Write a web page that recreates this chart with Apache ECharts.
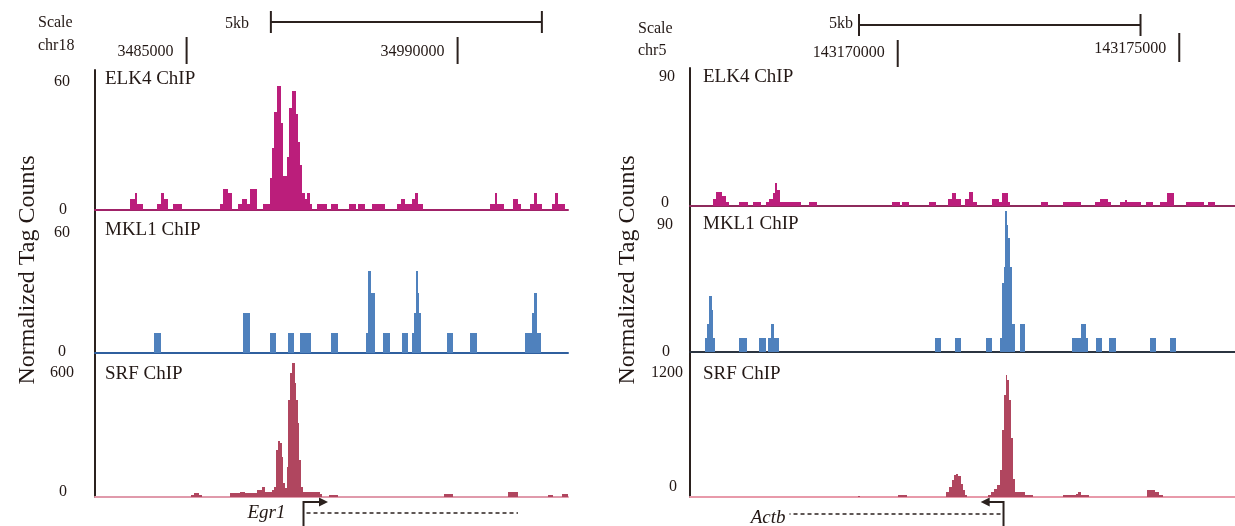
<!DOCTYPE html>
<html><head><meta charset="utf-8">
<script src="https://cdn.jsdelivr.net/npm/echarts@6/dist/echarts.min.js"></script>
<style>html,body{margin:0;padding:0;background:#fff}#c{width:1235px;height:526px}</style>
</head><body><div id="c"></div>
<script>
// ---------- DATA (positions in bp from window start; values = normalized tag counts) ----------
const trackNames = ['ELK4 ChIP', 'MKL1 ChIP', 'SRF ChIP'];

// Left window: chr18 (Egr1)
const chromL = 'chr18';
const spanL = 8727;
const yMaxL = [60, 60, 600];
const rulerPosL = [1690, 6690];
const rulerLabelsL = ['3485000', '34990000'];
const scaleBarL = [3245, 8245];
const elkL = [
  [646,738,5],[738,780,8],[780,891,3],
  [1138,1212,3],[1212,1273,8],[1273,1352,5],
  [1445,1600,3],
  [2306,2367,3],[2367,2459,10],[2459,2522,8],
  [2633,2707,3],[2707,2810,5],[2810,2860,3],[2860,2983,10],
  [3105,3229,3],
  [3229,3271,15],[3271,3308,29],[3308,3352,46],[3352,3426,58],[3426,3463,41],[3463,3506,16],
  [3506,3548,16],[3548,3585,25],[3585,3629,48],[3629,3703,56],[3703,3745,45],[3745,3782,32],
  [3782,3825,21],[3825,3875,8],[3875,3906,5],[3906,3967,8],[3967,3998,3],
  [4090,4286,3],[4349,4489,3],[4686,4815,3],[4847,4982,3],[5105,5351,3],
  [5566,5640,3],[5640,5720,5],[5720,5843,3],[5843,5904,5],[5904,5965,8],[5965,6057,3],
  [7288,7380,3],[7380,7422,8],[7422,7552,3],
  [7718,7810,5],[7810,7860,3],
  [8026,8105,3],[8105,8149,8],[8149,8242,3],
  [8426,8487,3],[8487,8548,8],[8548,8672,3]
];
const mklL = [
  [1083,1220,10],[2723,2867,20],[3236,3345,10],[3563,3679,10],[3782,3987,10],[4349,4480,10],
  [4993,5046,10],[5046,5101,41],[5101,5162,30],
  [5319,5435,10],[5662,5777,10],
  [5847,5887,10],[5887,5915,20],[5915,5956,41],[5956,5983,30],[5983,6017,20],
  [6502,6598,10],[6926,7042,10],
  [7937,8066,10],[8066,8107,20],[8107,8155,30],[8155,8238,10]
];
const srfL = [
  [1766,1834,10],[1834,1916,17],[1916,1971,8],
  [2491,2675,21],[2675,2768,26],[2768,2983,18],[2983,3076,34],[3076,3137,50],[3137,3260,26],[3260,3308,34],
  [3308,3339,50],[3339,3371,228],[3371,3413,269],[3413,3445,259],[3445,3474,195],[3474,3506,66],[3506,3548,43],
  [3548,3566,147],[3566,3598,469],[3598,3629,600],[3629,3690,650],[3690,3703,552],[3703,3740,469],
  [3740,3769,358],[3769,3801,180],[3801,3832,50],[3832,3967,26],[3967,4055,26],[4055,4158,24],[4158,4192,14],
  [4315,4479,11],[6447,6597,15],[7622,7800,26],[8360,8442,8],[8619,8727,15]
];
const geneL = [[3847, 4299, 7804, 'Egr1']]; // [TSS, arrow tip, gene end in view, name]

// Right window: chr5 (Actb)
const chromR = 'chr5';
const spanR = 9679;
const yMaxR = [90, 90, 1200];
const rulerPosR = [3689, 8689];
const rulerLabelsR = ['143170000', '143175000'];
const scaleBarR = [3001, 8001];
const elkR = [
  [416,466,5],[466,560,10],[560,632,7],[632,689,3],
  [869,1027,3],[1121,1265,3],
  [1351,1409,3],[1409,1466,5],[1466,1509,9],[1509,1553,16],[1553,1603,11],[1603,1963,3],
  [2106,2250,3],
  [3595,3725,3],[3761,3883,3],[4243,4372,3],
  [4574,4646,5],[4646,4732,9],[4732,4818,5],
  [4890,4948,5],[4948,5034,10],[5034,5091,3],
  [5365,5487,5],[5487,5545,3],[5545,5653,9],[5653,5681,3],
  [6228,6350,3],[6624,6947,3],
  [7192,7285,3],[7285,7429,5],[7429,7480,3],
  [7631,7717,3],[7717,7753,4],[7753,8005,3],
  [8091,8220,3],
  [8350,8472,3],[8472,8602,9],
  [8817,9120,3],[9192,9321,3]
];
const mklR = [
  [258,294,10],[294,330,20],[330,387,40],[387,416,30],[416,452,10],
  [869,1006,10],[1229,1351,10],
  [1387,1437,10],[1437,1495,20],[1495,1581,10],
  [4358,4466,10],[4710,4818,10],[5257,5365,10],
  [5509,5545,10],[5545,5573,49],[5573,5595,60],[5595,5623,100],[5623,5653,90],[5653,5681,81],[5681,5724,60],[5724,5768,20],
  [5854,5955,20],
  [6782,6947,10],[6947,7034,20],[7034,7070,10],
  [7213,7321,10],[7444,7559,10],[8163,8278,10],[8523,8630,10]
];
const srfR = [
  [2984,3020,12],[3689,3854,18],
  [4552,4602,47],[4602,4646,96],[4646,4681,161],[4681,4717,216],[4717,4768,226],[4768,4804,203],[4804,4840,129],[4840,4876,64],[4876,4912,22],
  [5293,5343,22],[5343,5394,47],[5394,5451,80],[5451,5509,112],[5509,5545,259],[5545,5573,648],[5573,5609,989],
  [5609,5638,1183],[5638,5667,1135],[5667,5703,940],[5703,5739,567],[5739,5775,177],[5775,5955,47],[5955,6099,22],
  [6624,6854,22],[6854,6890,30],[6890,6940,50],[6940,7091,18],
  [8113,8170,64],[8170,8256,70],[8256,8328,47],[8328,8400,22]
];
const geneR = [[5568, 5163, 1767, 'Actb']];

// ---------- STYLE ----------
const FONT = '"Liberation Serif","Times New Roman",serif';
const TXT = '#231815';
const AX = '#2b211e';
const FILL = ['#bb1e7b', '#4f81bd', '#b0465f'];

const grids = [], xAxes = [], yAxes = [], series = [], graphics = [];

function addGrid(left, right, top, height) {
  grids.push({left: left, right: right, top: top, height: height, containLabel: false});
  return grids.length - 1;
}
function hiddenAxes(gi, span, ymax, inverse) {
  xAxes.push({gridIndex: gi, type: 'value', min: 0, max: span, show: false});
  yAxes.push({gridIndex: gi, type: 'value', min: 0, max: ymax, inverse: !!inverse, show: false});
}

function buildPanel(P) {
  // frame (continuous vertical axis)
  let gi = addGrid(P.left, P.right, P.frameTop, 497 - P.frameTop);
  xAxes.push({gridIndex: gi, type: 'value', min: 0, max: P.span, show: false});
  yAxes.push({gridIndex: gi, type: 'value', min: 0, max: 1,
    axisLine: {show: true, lineStyle: {color: AX, width: 2}}, axisTick: {show: false},
    axisLabel: {show: false}, splitLine: {show: false}});

  // tracks
  P.tracks.forEach((T, k) => {
    const g = addGrid(P.left, P.right, T.top, T.bottom - T.top);
    xAxes.push({gridIndex: g, type: 'value', min: 0, max: P.span,
      axisLine: {show: true, onZero: false, lineStyle: {color: T.base, width: 2}},
      axisTick: {show: false}, axisLabel: {show: false}, splitLine: {show: false}});
    yAxes.push({gridIndex: g, type: 'value', min: 0, max: T.max, interval: T.max,
      axisLine: {show: false}, axisTick: {show: false}, splitLine: {show: false},
      axisLabel: {show: true, margin: T.margin, fontFamily: FONT, fontSize: 16, color: TXT,
        formatter: function (v) { return v === 0 ? '{z|0}' : '{m|' + v + '}'; },
        rich: {
          z: {fontFamily: FONT, fontSize: 16, color: TXT, padding: [0, T.zeroPad, T.zeroLift * 2, 0]},
          m: {fontFamily: FONT, fontSize: 16, color: TXT}
        }}});
    const fill = FILL[k];
    series.push({
      type: 'custom', xAxisIndex: g, yAxisIndex: g, data: T.data, encode: {x: [0, 1], y: 2},
      silent: true, animation: false, clip: false, z: 3,
      renderItem: function (params, api) {
        const a = api.coord([api.value(0), api.value(2)]);
        const b = api.coord([api.value(1), 0]);
        const x0 = Math.round(a[0]), x1 = Math.round(b[0]);
        const y0 = Math.round(a[1]), y1 = Math.round(b[1]);
        return {type: 'rect', shape: {x: x0, y: y0, width: Math.max(1, x1 - x0), height: y1 - y0},
          style: {fill: fill}};
      }
    });
    graphics.push({type: 'text', left: P.left + P.trackLabelDx, top: T.top + T.labelDy,
      style: {text: trackNames[k], font: '19px ' + FONT, fill: TXT}, silent: true});
  });

  // ruler (y in px from top inside ruler grid)
  const rg = addGrid(P.left, P.right, 0, 70);
  hiddenAxes(rg, P.span, 70, true);
  series.push({
    type: 'custom', xAxisIndex: rg, yAxisIndex: rg, data: [P.scaleBar], silent: true, animation: false, clip: false,
    renderItem: function (params, api) {
      const a = api.coord([api.value(0), P.barY]), b = api.coord([api.value(1), P.barY]);
      const ls = {stroke: AX, lineWidth: 2};
      return {type: 'group', children: [
        {type: 'line', shape: {x1: a[0], y1: a[1], x2: b[0], y2: b[1]}, style: ls},
        {type: 'line', shape: {x1: a[0], y1: a[1] - 11, x2: a[0], y2: a[1] + 11}, style: ls},
        {type: 'line', shape: {x1: b[0], y1: b[1] - 11, x2: b[0], y2: b[1] + 11}, style: ls},
        {type: 'text', x: a[0] - P.kbGap, y: a[1] + P.kbDy, style: {text: '5kb', font: '16px ' + FONT, fill: TXT, align: 'right', verticalAlign: 'middle'}}
      ]};
    }
  });
  series.push({
    type: 'custom', xAxisIndex: rg, yAxisIndex: rg,
    data: P.rulerPos.map((p, i) => [p, i]), silent: true, animation: false, clip: false,
    renderItem: function (params, api) {
      const i = api.value(1);
      const t = P.tickY[i];
      const a = api.coord([api.value(0), t[0]]), b = api.coord([api.value(0), t[1]]);
      return {type: 'group', children: [
        {type: 'line', shape: {x1: a[0], y1: a[1], x2: b[0], y2: b[1]}, style: {stroke: AX, lineWidth: 2}},
        {type: 'text', x: a[0] - 13, y: t[2], style: {text: P.rulerLabels[i], font: '16px ' + FONT, fill: TXT, align: 'right', verticalAlign: 'middle'}}
      ]};
    }
  });
  graphics.push({type: 'text', left: P.scaleX, top: P.scaleY, style: {text: 'Scale', font: '16px ' + FONT, fill: TXT}, silent: true});
  graphics.push({type: 'text', left: P.scaleX, top: P.chrY, style: {text: P.chrom, font: '16px ' + FONT, fill: TXT}, silent: true});

  // gene annotation
  const gg = addGrid(P.left, P.right, 497, 29);
  hiddenAxes(gg, P.span, 29, true);
  series.push({
    type: 'custom', xAxisIndex: gg, yAxisIndex: gg, data: P.gene, silent: true, animation: false, clip: false,
    renderItem: function (params, api) {
      const tss = api.value(0), tip = api.value(1), end = api.value(2);
      const name = P.gene[params.dataIndex][3];
      const top = api.coord([tss, 2]), bot = api.coord([tss, 29]);
      const ay = api.coord([tss, 5])[1];
      const tp = api.coord([tip, 5]);
      const dir = tp[0] > top[0] ? 1 : -1;
      const dy = api.coord([tss, P.dashY])[1];
      const ex = api.coord([end, P.dashY])[0];
      const d0 = top[0] + dir * 3;
      const leftX = Math.min(top[0], ex);
      return {type: 'group', children: [
        {type: 'line', shape: {x1: top[0], y1: ay - 1, x2: bot[0], y2: bot[1]}, style: {stroke: AX, lineWidth: 2}},
        {type: 'line', shape: {x1: top[0], y1: ay, x2: tp[0] - dir * 6, y2: ay}, style: {stroke: AX, lineWidth: 2}},
        {type: 'polygon', shape: {points: [[tp[0], ay], [tp[0] - dir * 9, ay - 4.5], [tp[0] - dir * 9, ay + 4.5]]}, style: {fill: AX}},
        {type: 'line', shape: {x1: d0, y1: dy, x2: ex, y2: dy}, style: {stroke: AX, lineWidth: 1.5, lineDash: [4, 3]}},
        {type: 'text', x: leftX - P.geneGap, y: api.coord([tss, P.geneTextY])[1], style: {text: name, font: 'italic 19px ' + FONT, fill: TXT, align: 'right', verticalAlign: 'middle'}}
      ]};
    }
  });

  graphics.push({type: 'text', x: P.titleX, y: 270, rotation: Math.PI / 2,
    style: {text: 'Normalized Tag Counts', font: '24px ' + FONT, fill: TXT, align: 'center', verticalAlign: 'middle'}, silent: true});
}

buildPanel({
  left: 95, right: 1235 - 568, span: spanL, frameTop: 70, trackLabelDx: 10,
  chrom: chromL, rulerPos: rulerPosL, rulerLabels: rulerLabelsL, scaleBar: scaleBarL,
  barY: 22, kbGap: 22, kbDy: 2, tickY: [[37, 64, 52], [37, 64, 52]], scaleX: 38, scaleY: 15, chrY: 38,
  gene: geneL, geneGap: 18, dashY: 16, geneTextY: 16, titleX: 28,
  tracks: [
    {top: 82, bottom: 210, max: yMaxL[0], data: elkL, base: '#a02268', labelDy: -12, margin: 25, zeroPad: 3, zeroLift: 0},
    {top: 233, bottom: 353, max: yMaxL[1], data: mklL, base: '#2f5f9e', labelDy: -12, margin: 25, zeroPad: 4, zeroLift: 1},
    {top: 373, bottom: 497, max: yMaxL[2], data: srfL, base: '#e09aab', labelDy: -8, margin: 21, zeroPad: 7, zeroLift: 5}
  ]
});
buildPanel({
  left: 690, right: 0, span: spanR, frameTop: 68, trackLabelDx: 13,
  chrom: chromR, rulerPos: rulerPosR, rulerLabels: rulerLabelsR, scaleBar: scaleBarR,
  barY: 25, kbGap: 6, kbDy: -1, tickY: [[40, 67, 53], [33, 62, 49]], scaleX: 638, scaleY: 21, chrY: 43,
  gene: geneR, geneGap: 4, dashY: 17, geneTextY: 21, titleX: 628,
  tracks: [
    {top: 77, bottom: 206, max: yMaxR[0], data: elkR, base: '#8e2a5c', labelDy: -9, margin: 15, zeroPad: 6, zeroLift: 3},
    {top: 225, bottom: 352, max: yMaxR[1], data: mklR, base: '#2b3440', labelDy: -10, margin: 17, zeroPad: 3, zeroLift: 0},
    {top: 373, bottom: 497, max: yMaxR[2], data: srfR, base: '#e89aaa', labelDy: -8, margin: 7, zeroPad: 6, zeroLift: 10}
  ]
});

const chart = echarts.init(document.getElementById('c'), null, {renderer: 'canvas'});
chart.setOption({
  animation: false,
  backgroundColor: '#ffffff',
  grid: grids, xAxis: xAxes, yAxis: yAxes, series: series,
  graphic: graphics
});
</script></body></html>
